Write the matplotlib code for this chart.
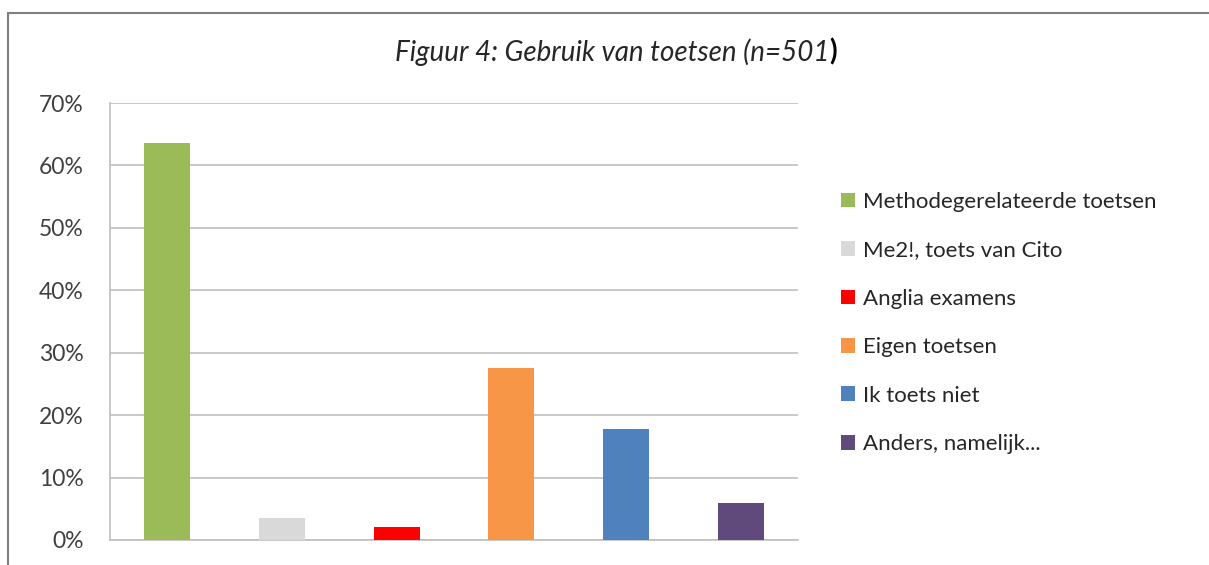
import matplotlib
matplotlib.use("Agg")
import matplotlib.pyplot as plt
from matplotlib.patches import Rectangle, Patch

categories = ["Methodegerelateerde toetsen", "Me2!, toets van Cito", "Anglia examens",
              "Eigen toetsen", "Ik toets niet", "Anders, namelijk..."]
values = [63.6, 3.5, 2.1, 27.6, 17.8, 5.9]
colors = ["#9BBB59", "#D9D9D9", "#FF0000", "#F79646", "#4F81BD", "#604A7B"]
yticks = [0, 10, 20, 30, 40, 50, 60, 70]
ytick_labels = ["0%", "10%", "20%", "30%", "40%", "50%", "60%", "70%"]
title = "Figuur 4: Gebruik van toetsen (n=501"

plt.rcParams['font.family'] = ['Lato', 'DejaVu Sans']

W, H = 1209, 565
fig = plt.figure(figsize=(W/100, H/100), dpi=100)
fig.patch.set_facecolor("white")

# outer chart frame (cut off at right and bottom)
fig.add_artist(Rectangle((8/W, -0.1), 1.2, (H-13)/H + 0.1, transform=fig.transFigure,
                         fill=False, edgecolor="#7F7F7F", linewidth=1.5))

ax = fig.add_axes([110/W, (H-540)/H, (798-110)/W, (540-103)/H])
x = list(range(len(categories)))
ax.bar(x, values, width=0.4, color=colors, zorder=3)
ax.set_xlim(-0.5, len(categories) - 0.5)
ax.set_ylim(0, 70)
ax.set_yticks(yticks)
ax.set_yticklabels(ytick_labels, fontsize=16.5, color="#404040")
ax.set_xticks([])
ax.tick_params(axis='y', length=0, pad=19)
ax.grid(axis='y', color="#BFBFBF", linewidth=1.2, zorder=0)
for s in ["top", "right"]:
    ax.spines[s].set_visible(False)
for s in ["left", "bottom"]:
    ax.spines[s].set_color("#BFBFBF")
    ax.spines[s].set_linewidth(1.2)

handles = [Patch(facecolor=c, edgecolor='none') for c in colors]
fig.legend(handles, categories, loc="upper left", bbox_to_anchor=(832/W, 1 - 183/H),
           frameon=False, fontsize=16, handlelength=0.65, handleheight=0.65,
           handletextpad=0.35, labelspacing=1.28, labelcolor="#262626",
           borderaxespad=0, borderpad=0.4)

t = fig.text(612/W, 1 - 52/H, title, ha="center", va="center", fontsize=20,
             style="italic", color="#262626")
ax.annotate(")", xy=(1, 0), xycoords=t, xytext=(0, 0), textcoords="offset points",
            ha="left", va="bottom", fontsize=20, fontweight="bold", color="#000000",
            annotation_clip=False)

fig.savefig("out.png", dpi=100, facecolor="white")
